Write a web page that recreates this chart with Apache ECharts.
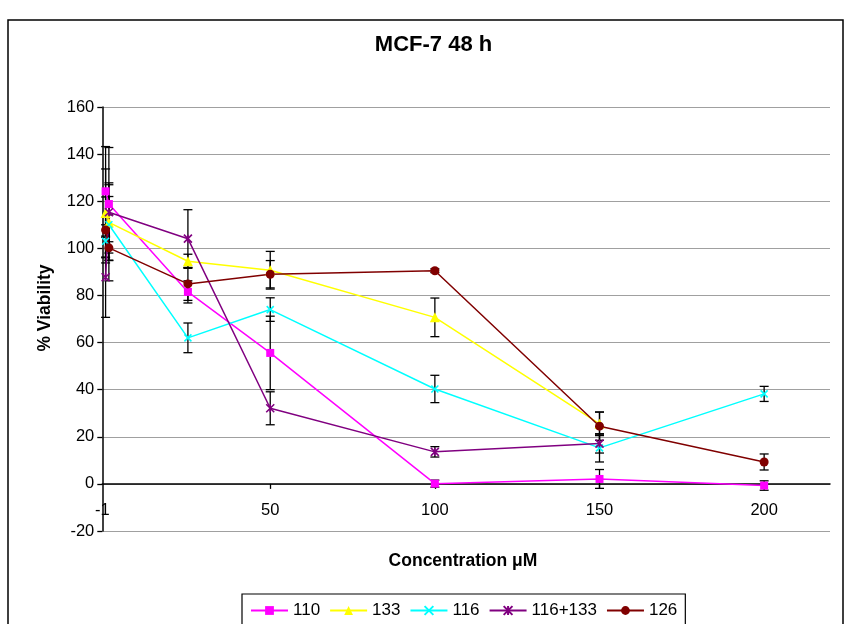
<!DOCTYPE html>
<html>
<head>
<meta charset="utf-8">
<script src="https://cdn.jsdelivr.net/npm/echarts@6/dist/echarts.min.js"></script>
<style>
  html, body { margin: 0; padding: 0; background: #fff; }
  #chart { width: 846px; height: 624px; }
</style>
</head>
<body>
<div id="chart"></div>
<script>
// Concentrations (µM) at which viability was measured
const concentrations = [0, 1, 25, 50, 100, 150, 200];

// Mean % viability per compound (null = not measured)
const viability110    = [124.2, 118.8, 81.5, 55.6, 0.1, 2.1, -0.7];
const viability133    = [115.0, 111.0, 94.5, 90.7, 70.7, 25.5, null];
const viability116    = [103.0, 110.0, 62.0, 74.0, 40.3, 15.3, 38.2];
const viability116133 = [87.7, 115.3, 104.1, 32.1, 13.6, 17.1, null];
const viability126    = [107.8, 100.2, 84.9, 89.0, 90.5, 24.5, 9.3];

// Standard deviations (drawn as error bars)
const sd110    = [19.0, 24.0, 4.7, 15.6, 1.5, 4.0, 2.0];
const sd133    = [18.7, 16.0, 3.0, 8.0, 8.2, 5.0, null];
const sd116    = [7.0, 12.0, 6.3, 5.0, 5.8, 6.0, 3.2];
const sd116133 = [17.0, 12.5, 12.3, 7.0, 2.2, 4.0, null];
const sd126    = [14.0, 14.0, 7.0, 5.8, 0.8, 6.0, 3.4];

const seriesNames = ['110', '133', '116', '116+133', '126'];
const xTickLabels = [-1, 50, 100, 150, 200];
const yMin = -20, yMax = 160, yStep = 20;

const FONT = '"Liberation Sans", Arial, Helvetica, sans-serif';
const GRID = { left: 102.3, right: 16, top: 107, bottom: 93 };

function points(values) {
  const out = [];
  concentrations.forEach((c, i) => { if (values[i] != null) out.push([c, values[i]]); });
  return out;
}

function errorBars(values, errors) {
  const data = [];
  concentrations.forEach((c, i) => {
    if (values[i] != null && errors[i] != null) data.push([c, values[i], errors[i]]);
  });
  return {
    type: 'custom',
    silent: true,
    z: 1,
    encode: { x: 0, y: 1 },
    data: data,
    renderItem: function (params, api) {
      const x = api.value(0), y = api.value(1), e = api.value(2);
      const hi = api.coord([x, y + e]);
      const lo = api.coord([x, y - e]);
      const hw = 4.5;
      const st = { stroke: '#000', lineWidth: 1.3 };
      return {
        type: 'group',
        children: [
          { type: 'line', shape: { x1: hi[0], y1: hi[1], x2: lo[0], y2: lo[1] }, style: st },
          { type: 'line', shape: { x1: hi[0] - hw, y1: hi[1], x2: hi[0] + hw, y2: hi[1] }, style: st },
          { type: 'line', shape: { x1: lo[0] - hw, y1: lo[1], x2: lo[0] + hw, y2: lo[1] }, style: st }
        ]
      };
    }
  };
}

function lineSeries(name, values, color, symbol, size, stroked) {
  return {
    type: 'line',
    name: name,
    data: points(values),
    z: 3,
    symbol: symbol,
    symbolSize: size,
    showAllSymbol: true,
    lineStyle: { color: color, width: 1.5 },
    itemStyle: stroked
      ? { color: color, borderColor: color, borderWidth: 1.6 }
      : { color: color, borderWidth: 0 }
  };
}

const chart = echarts.init(document.getElementById('chart'), null, { renderer: 'canvas' });

// The horizontal axis runs along y = 0: shift it up from the grid bottom by the
// height that the value range below zero occupies.
const plotHeight = 624 - GRID.top - GRID.bottom;
const zeroOffset = -plotHeight * (0 - yMin) / (yMax - yMin);

chart.setOption({
  animation: false,
  backgroundColor: '#fff',
  title: {
    text: 'MCF-7 48 h',
    left: 433.5,
    textAlign: 'center',
    top: 34,
    padding: 0,
    textStyle: { fontFamily: FONT, fontSize: 22, fontWeight: 'bold', color: '#000' }
  },
  grid: Object.assign({ containLabel: false }, GRID),
  xAxis: {
    type: 'value',
    min: -1,
    max: 220,
    offset: zeroOffset,
    splitLine: { show: false },
    axisLine: { onZero: false, lineStyle: { color: '#000', width: 1.5 } },
    axisTick: { customValues: [50, 100, 150, 200], length: 5, lineStyle: { color: '#000', width: 1.3 } },
    axisLabel: {
      customValues: xTickLabels,
      margin: 18,
      fontFamily: FONT,
      fontSize: 16.5,
      color: '#000'
    }
  },
  yAxis: {
    type: 'value',
    min: yMin,
    max: yMax,
    interval: yStep,
    axisLine: { show: true, onZero: false, lineStyle: { color: '#000', width: 1.5 } },
    axisTick: { show: true, length: 5, lineStyle: { color: '#000', width: 1.3 } },
    axisLabel: { margin: 8, fontFamily: FONT, fontSize: 16.5, color: '#000' },
    splitLine: { lineStyle: { color: '#a0a0a0', width: 1.2 } }
  },
  legend: {
    data: seriesNames,
    left: 242,
    top: 594,
    padding: [8, 8, 8, 8],
    itemWidth: 37,
    itemHeight: 11,
    itemGap: 9,
    borderColor: '#000',
    borderWidth: 1.2,
    textStyle: { fontFamily: FONT, fontSize: 17, color: '#000' }
  },
  graphic: [
    {
      type: 'rect',
      shape: { x: 8, y: 20, width: 835, height: 700 },
      style: { fill: 'none', stroke: '#000', lineWidth: 1.5 },
      z: -10
    },
    {
      type: 'text',
      x: 45, y: 308,
      rotation: Math.PI / 2,
      style: { text: '% Viability', font: 'bold 17.5px ' + FONT, fill: '#000', textAlign: 'center', textVerticalAlign: 'middle' }
    },
    {
      type: 'text',
      x: 463, y: 561,
      style: { text: 'Concentration μM', font: 'bold 17.5px ' + FONT, fill: '#000', textAlign: 'center', textVerticalAlign: 'middle' }
    }
  ],
  series: [
    errorBars(viability110, sd110),
    errorBars(viability133, sd133),
    errorBars(viability116, sd116),
    errorBars(viability116133, sd116133),
    errorBars(viability126, sd126),
    lineSeries('110', viability110, '#FF00FF', 'rect', 8, false),
    lineSeries('133', viability133, '#FFFF00', 'triangle', 10, false),
    lineSeries('116', viability116, '#00FFFF', 'path://M0,0L10,10M10,0L0,10', 7, true),
    lineSeries('116+133', viability116133, '#800080', 'path://M0,0L10,10M10,0L0,10M5,0L5,10', 8, true),
    lineSeries('126', viability126, '#800000', 'circle', 9, false)
  ]
});
</script>
</body>
</html>
